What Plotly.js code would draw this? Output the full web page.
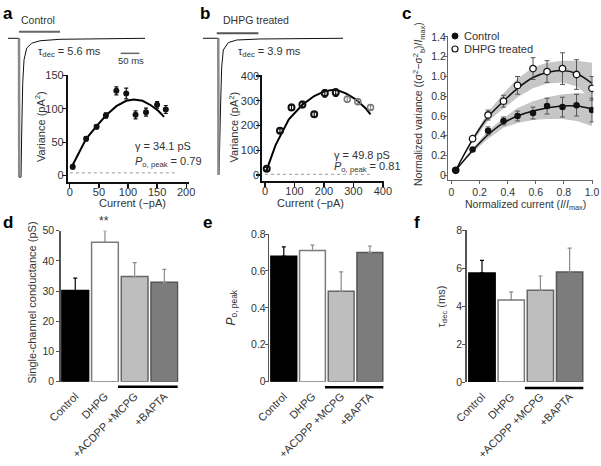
<!DOCTYPE html>
<html><head><meta charset="utf-8">
<script src="https://cdn.plot.ly/plotly-3.0.1.min.js"></script>
<style>html,body{margin:0;padding:0;background:#fff}#chart{width:601px;height:466px}</style>
</head><body><div id="chart"></div>
<script>
// ---------- data ----------
// example current traces (time ms, current pA)
const traceA_t = [0, 29.5, 30, 34.9, 36.7, 39.4, 42.9, 50.1, 63.5, 85.8, 139.4, 367];
const traceA_i = [0, 0, -170, -170, -116, -55, -26.5, -12, -6, -3, -1.2, 0];
const onsetA_t = [29.5, 30];
const onsetA_i = [0, -170];
const drugA_t = [29.5, 139.4];
const drugA_i = [8.1, 8.1];
const scaleA_t = [302, 352];
const scaleA_i = [-18.4, -18.4];

const traceB_t = [0, 41, 41.5, 42.9, 47.5, 50.1, 54.4, 67.8, 90.3, 152.8, 375];
const traceB_i = [0, 0, -350, -345, -158, -73, -30, -11, -4.4, -1.8, 0];
const onsetB_t = [41, 41.5];
const onsetB_i = [0, -350];
const drugB_t = [36.7, 148.3];
const drugB_i = [12.8, 12.8];

// panel a: variance vs current (control)
const aCurrent  = [5, 28, 46, 62, 80, 97, 113, 131, 150, 165];
const aVariance = [13, 55, 73, 90, 127, 123, 91, 95, 106, 99];
const aErr      = [3, 3, 3, 4, 6, 8, 6, 6, 5, 6];
const aFitX = [2, 28, 46, 62, 80, 97, 110, 125, 140, 152, 162];
const aFitY = [11, 55, 74, 90, 104, 112, 114, 112, 105, 97, 88];
const aBaseX = [0, 182];
const aBaseY = [4, 4];
const aXTicks = [0, 50, 100, 150, 200];
const aYTicks = [0, 50, 100, 150];

// panel b: variance vs current (DHPG)
const bCurrent  = [6, 51, 90, 127, 167, 203, 240, 279, 315, 358];
const bVariance = [25, 179, 273, 285, 246, 330, 333, 306, 296, 273];
const bErr      = [6, 8, 12, 13, 10, 15, 15, 12, 10, 10];
const bFitX = [5, 36, 81, 126, 167, 203, 240, 274, 308, 341, 358];
const bFitY = [18, 121, 225, 283, 319, 339, 345, 330, 306, 270, 245];
const bBaseX = [0, 356];
const bBaseY = [3, 3];
const bTicks = [0, 100, 200, 300, 400];

// panel c: normalized
const cCurrent = [0.03, 0.15, 0.26, 0.37, 0.47, 0.58, 0.68, 0.79, 0.89, 1.0];
const cCtrl    = [0.05, 0.26, 0.45, 0.55, 0.60, 0.63, 0.70, 0.69, 0.71, 0.66];
const cCtrlErr = [0.01, 0.02, 0.04, 0.04, 0.05, 0.06, 0.08, 0.10, 0.11, 0.12];
const cDhpg    = [0.05, 0.37, 0.61, 0.75, 0.91, 1.08, 1.05, 1.08, 1.02, 0.88];
const cDhpgErr = [0.01, 0.02, 0.05, 0.06, 0.09, 0.11, 0.11, 0.16, 0.15, 0.12];
const cCtrlFit = [0.05, 0.25, 0.41, 0.53, 0.60, 0.65, 0.68, 0.70, 0.70, 0.67];
const cCtrlUp  = [0.05, 0.27, 0.45, 0.58, 0.68, 0.75, 0.79, 0.82, 0.83, 0.83];
const cCtrlLo  = [0.05, 0.23, 0.37, 0.48, 0.53, 0.56, 0.57, 0.57, 0.55, 0.50];
const cDhpgFit = [0.05, 0.36, 0.59, 0.75, 0.88, 0.99, 1.04, 1.06, 1.03, 0.93];
const cDhpgUp  = [0.05, 0.38, 0.64, 0.83, 0.98, 1.09, 1.14, 1.16, 1.16, 1.14];
const cDhpgLo  = [0.05, 0.34, 0.55, 0.68, 0.79, 0.88, 0.93, 0.94, 0.90, 0.77];
const cXTicks = [0, 0.2, 0.4, 0.6, 0.8, 1.0];
const cXLabels = ['0', '0.2', '0.4', '0.6', '0.8', '1.0'];
const cYTicks = [0, 0.2, 0.4, 0.6, 0.8, 1.0, 1.2, 1.4];
const cYLabels = ['0', '0.2', '0.4', '0.6', '0.8', '1.0', '1.2', '1.4'];

// bar panels d, e, f
const barCats = ['Control', 'DHPG', '+ACDPP +MCPG', '+BAPTA'];
const dVals = [30.2, 46.2, 34.8, 32.9];
const dErr  = [4.1, 3.8, 4.6, 4.3];
const eVals = [0.68, 0.71, 0.49, 0.70];
const eErr  = [0.05, 0.03, 0.105, 0.035];
const fVals = [5.74, 4.31, 4.83, 5.79];
const fErr  = [0.66, 0.43, 0.75, 1.26];
const dTicks = [0, 10, 20, 30, 40, 50];
const eTicks = [0, 0.2, 0.4, 0.6, 0.8];
const fTicks = [0, 2, 4, 6, 8];

// ---------- styles / layout helpers ----------
const FONT = 'Liberation Sans, Arial, sans-serif';
const TXT = '#333';
const W = 601, H = 466;
const dx = (a, b) => [a / W, b / W];
const dy = (top, bot) => [1 - bot / H, 1 - top / H];
const barFill = ['#000000', '#ffffff', '#bebebe', '#7c7c7c'];
const barLine = ['#000000', '#7a7a7a', '#666666', '#555555'];
const barErrC = ['#000000', '#8a8a8a', '#8a8a8a', '#8a8a8a'];

const traces = [];
// traces a
traces.push({x: traceA_t, y: traceA_i, mode: 'lines', line: {color: '#111', width: 1}, xaxis: 'x', yaxis: 'y'});
traces.push({x: onsetA_t, y: onsetA_i, mode: 'lines', line: {color: '#8a8a8a', width: 2.5}, xaxis: 'x', yaxis: 'y'});
traces.push({x: drugA_t, y: drugA_i, mode: 'lines', line: {color: '#666', width: 2}, xaxis: 'x', yaxis: 'y'});
traces.push({x: scaleA_t, y: scaleA_i, mode: 'lines', line: {color: '#666', width: 1.5}, xaxis: 'x', yaxis: 'y'});
// traces b
traces.push({x: traceB_t, y: traceB_i, mode: 'lines', line: {color: '#111', width: 1}, xaxis: 'x3', yaxis: 'y3'});
traces.push({x: onsetB_t, y: onsetB_i, mode: 'lines', line: {color: '#8a8a8a', width: 2.5}, xaxis: 'x3', yaxis: 'y3'});
traces.push({x: drugB_t, y: drugB_i, mode: 'lines', line: {color: '#555', width: 2}, xaxis: 'x3', yaxis: 'y3'});

// panel a scatter
traces.push({x: aBaseX, y: aBaseY, mode: 'lines', line: {color: '#999', width: 1, dash: 'dot'}, xaxis: 'x2', yaxis: 'y2'});
traces.push({x: aFitX, y: aFitY, mode: 'lines', line: {color: '#000', width: 2}, xaxis: 'x2', yaxis: 'y2'});
traces.push({x: aCurrent, y: aVariance, mode: 'markers', marker: {color: '#111', size: 6},
  error_y: {type: 'data', array: aErr, color: '#111', thickness: 1.2, width: 2}, xaxis: 'x2', yaxis: 'y2'});

// panel b scatter
traces.push({x: bBaseX, y: bBaseY, mode: 'lines', line: {color: '#999', width: 1, dash: 'dot'}, xaxis: 'x4', yaxis: 'y4'});
traces.push({x: bFitX, y: bFitY, mode: 'lines', line: {color: '#000', width: 2}, xaxis: 'x4', yaxis: 'y4'});
traces.push({x: bCurrent.slice(0, 7), y: bVariance.slice(0, 7), mode: 'markers',
  marker: {symbol: 'circle-open', color: '#111', size: 6, line: {width: 2, color: '#111'}},
  error_y: {type: 'data', array: bErr.slice(0, 7), color: '#111', thickness: 1.2, width: 2}, xaxis: 'x4', yaxis: 'y4'});
traces.push({x: bCurrent.slice(7), y: bVariance.slice(7), mode: 'markers',
  marker: {symbol: 'circle-open', color: '#777', size: 6, line: {width: 1.5, color: '#777'}},
  error_y: {type: 'data', array: bErr.slice(7), color: '#888', thickness: 1.2, width: 2}, xaxis: 'x4', yaxis: 'y4'});

// panel c
const bandC = '#c6c6c6';
traces.push({x: cCurrent, y: cDhpgUp, mode: 'lines', line: {width: 0, color: bandC}, xaxis: 'x5', yaxis: 'y5'});
traces.push({x: cCurrent, y: cDhpgLo, mode: 'lines', line: {width: 0, color: bandC}, fill: 'tonexty', fillcolor: bandC, xaxis: 'x5', yaxis: 'y5'});
traces.push({x: cCurrent, y: cCtrlUp, mode: 'lines', line: {width: 0, color: bandC}, xaxis: 'x5', yaxis: 'y5'});
traces.push({x: cCurrent, y: cCtrlLo, mode: 'lines', line: {width: 0, color: bandC}, fill: 'tonexty', fillcolor: bandC, xaxis: 'x5', yaxis: 'y5'});
traces.push({x: cCurrent, y: cDhpgFit, mode: 'lines', line: {color: '#111', width: 1.5, shape: 'spline'}, xaxis: 'x5', yaxis: 'y5'});
traces.push({x: cCurrent, y: cCtrlFit, mode: 'lines', line: {color: '#111', width: 1.5, shape: 'spline'}, xaxis: 'x5', yaxis: 'y5'});
traces.push({x: cCurrent, y: cDhpg, mode: 'markers',
  marker: {symbol: 'circle', color: '#fff', size: 6.5, line: {width: 1.3, color: '#111'}},
  error_y: {type: 'data', array: cDhpgErr, color: '#555', thickness: 1, width: 2.5}, xaxis: 'x5', yaxis: 'y5'});
traces.push({x: cCurrent, y: cCtrl, mode: 'markers',
  marker: {symbol: 'circle', color: '#111', size: 6.5},
  error_y: {type: 'data', array: cCtrlErr, color: '#555', thickness: 1, width: 2.5}, xaxis: 'x5', yaxis: 'y5'});

// bar panels
function addBars(vals, errs, xa, ya) {
  for (let i = 0; i < barCats.length; i++) {
    traces.push({type: 'bar', x: [barCats[i]], y: [vals[i]], width: 0.9,
      marker: {color: barFill[i], line: {color: barLine[i], width: 1.5}},
      error_y: {type: 'data', symmetric: false, array: [errs[i]], arrayminus: [0], color: barErrC[i], thickness: 1.2, width: 2},
      xaxis: xa, yaxis: ya});
  }
}
addBars(dVals, dErr, 'x6', 'y6');
addBars(eVals, eErr, 'x7', 'y7');
addBars(fVals, fErr, 'x8', 'y8');

// ---------- axes ----------
const tf = (s) => ({family: FONT, size: s, color: TXT});
function sAx(o) {
  return Object.assign({showgrid: false, zeroline: false, showline: true, linecolor: '#111', linewidth: 1.6,
    ticks: 'outside', ticklen: 4, tickwidth: 1.3, tickcolor: '#111', tickfont: tf(11), fixedrange: true}, o);
}
function cAx(o) {
  return Object.assign({showgrid: false, zeroline: false, showline: true, linecolor: '#666', linewidth: 1,
    ticks: 'outside', ticklen: 3, tickwidth: 1, tickcolor: '#666', tickfont: tf(10.5), fixedrange: true}, o);
}
function barX(dom, rng, anchor) {
  return {domain: dom, range: rng, anchor: anchor, type: 'category', categoryorder: 'array', categoryarray: barCats,
    showgrid: false, zeroline: false, showline: false, ticks: 'outside', ticklen: 3, tickcolor: 'rgba(0,0,0,0)',
    tickangle: -45, tickfont: tf(11), fixedrange: true};
}
function barY(dom, rng, vals, anchor, so) {
  return {domain: dom, range: rng, anchor: anchor, tickmode: 'array', tickvals: vals, showgrid: false, zeroline: false, showline: true,
    linecolor: '#555', linewidth: 1.5, ticks: 'outside', ticklen: 3, tickwidth: 1, tickcolor: '#555',
    tickfont: tf(10.5), ticklabelstandoff: so, fixedrange: true};
}
const hidden = (dom, rng, anchor) => ({domain: dom, range: rng, visible: false, anchor: anchor, fixedrange: true});

const layout = {
  width: W, height: H, margin: {l: 0, r: 0, t: 0, b: 0}, paper_bgcolor: '#fff', plot_bgcolor: 'rgba(0,0,0,0)',
  showlegend: false, barmode: 'overlay', font: {family: FONT, color: TXT},
  xaxis: hidden(dx(8, 145), [0, 367], 'y'),
  yaxis: hidden(dy(25, 180), [-173.5, 16.3], 'x'),
  xaxis3: hidden(dx(203, 343), [0, 375], 'y3'),
  yaxis3: hidden(dy(25, 180), [-362.8, 34], 'x3'),
  xaxis2: sAx({domain: dx(67.5, 188.5), range: [-4, 204], anchor: 'y2', tickmode: 'array', tickvals: aXTicks, ticklabelstandoff: -5}),
  yaxis2: sAx({domain: dy(74.8, 182), range: [-9.7, 151], anchor: 'x2', tickmode: 'array', tickvals: aYTicks, ticklabelstandoff: -4}),
  xaxis4: sAx({domain: dx(262, 383.5), range: [-10, 402], anchor: 'y4', tickmode: 'array', tickvals: bTicks, ticklabelstandoff: -5}),
  yaxis4: sAx({domain: dy(75, 181), range: [-24, 404], anchor: 'x4', tickmode: 'array', tickvals: bTicks, ticklabelstandoff: -5}),
  xaxis5: cAx({domain: dx(448, 593.4), range: [-0.025, 1.01], anchor: 'y5', tickmode: 'array',
    tickvals: cXTicks, ticktext: cXLabels, ticklabelstandoff: -1}),
  yaxis5: cAx({domain: dy(36, 180), range: [-0.048, 1.41], anchor: 'x5', tickmode: 'array',
    tickvals: cYTicks, ticktext: cYLabels, ticklabelstandoff: -4}),
  xaxis6: barX(dx(60.7, 178.6), [-0.49, 3.48], 'y6'),
  yaxis6: barY(dy(230.7, 381.7), [0, 50], dTicks, 'x6', 0),
  xaxis7: barX(dx(269.3, 384.2), [-0.505, 3.5], 'y7'),
  yaxis7: barY(dy(234, 381.7), [0, 0.8], eTicks, 'x7', -3),
  xaxis8: barX(dx(466.7, 584.2), [-0.524, 3.5], 'y8'),
  yaxis8: barY(dy(230, 382), [0, 8], fTicks, 'x8', -2),
  shapes: [],
  annotations: []
};

// group lines under drug bars
const underline = (xa, x0, x1, py) => ({type: 'line', xref: xa, yref: 'paper', x0: x0, x1: x1,
  y0: 1 - py / H, y1: 1 - py / H, line: {color: '#000', width: 2.5}});
layout.shapes.push(underline('x6', 1.44, 3.45, 386.7));
layout.shapes.push(underline('x7', 1.435, 3.47, 387.3));
layout.shapes.push(underline('x8', 1.47, 3.47, 388));
// legend symbols for panel c
layout.shapes.push({type: 'circle', xref: 'paper', yref: 'paper', x0: 452 / W, x1: 458 / W, y0: 1 - 39 / H, y1: 1 - 33 / H,
  fillcolor: '#111', line: {color: '#111', width: 1}});
layout.shapes.push({type: 'circle', xref: 'paper', yref: 'paper', x0: 452 / W, x1: 458 / W, y0: 1 - 52 / H, y1: 1 - 46 / H,
  fillcolor: '#fff', line: {color: '#111', width: 1.2}});

function ann(px, py, text, o) {
  layout.annotations.push(Object.assign({xref: 'paper', yref: 'paper', x: px / W, y: 1 - py / H, text: text,
    showarrow: false, xanchor: 'center', yanchor: 'middle', font: {family: FONT, size: 11, color: TXT}}, o || {}));
}
const big = {font: {family: FONT, size: 17, color: '#000'}};
ann(7.5, 13, '<b>a</b>', big);
ann(205.5, 13, '<b>b</b>', big);
ann(406, 13, '<b>c</b>', big);
ann(7.5, 222, '<b>d</b>', big);
ann(207.5, 222, '<b>e</b>', big);
ann(416.5, 222, '<b>f</b>', big);

ann(37.5, 20, 'Control', {font: {family: FONT, size: 10.5, color: TXT}});
ann(256, 20, 'DHPG treated', {font: {family: FONT, size: 10.5, color: TXT}});
ann(36, 52, 'τ<sub>dec</sub> = 5.6 ms', {xanchor: 'left'});
ann(236, 52, 'τ<sub>dec</sub> = 3.9 ms', {xanchor: 'left'});
ann(130.5, 61, '50 ms', {font: {family: FONT, size: 9.5, color: TXT}});

ann(40, 127, 'Variance (pA<sup>2</sup>)', {textangle: -90});
ann(132.5, 203, 'Current (−pA)');
ann(233.5, 127, 'Variance (pA<sup>2</sup>)', {textangle: -90});
ann(310, 203, 'Current (−pA)');
ann(133, 146, 'γ = 34.1 pS', {xanchor: 'left'});
ann(133, 162, '<i>P</i><sub>o, peak</sub> = 0.79', {xanchor: 'left'});
ann(332, 155, 'γ = 49.8 pS', {xanchor: 'left'});
ann(332, 167, '<i>P</i><sub>o, peak</sub> = 0.81', {xanchor: 'left'});

ann(419, 104, 'Normalized variance ((σ<sup>2</sup>−σ<sup>2</sup><sub>b</sub>)/<i>I</i><sub>max</sub>)', {textangle: -90, font: {family: FONT, size: 10.5, color: TXT}});
ann(525.5, 205, 'Normalized current (<i>I</i>/<i>I</i><sub>max</sub>)', {font: {family: FONT, size: 10.5, color: TXT}});
ann(462, 36, 'Control', {xanchor: 'left'});
ann(462, 49, 'DHPG treated', {xanchor: 'left'});

ann(31.5, 303, 'Single-channel conductance (pS)', {textangle: -90});
ann(104, 221, '**', {font: {family: FONT, size: 12, color: TXT}});
ann(231.5, 308, '<i>P</i><sub>o, peak</sub>', {textangle: -90, font: {family: FONT, size: 12, color: TXT}});
ann(441.5, 307, 'τ<sub>dec</sub> (ms)', {textangle: -90});

Plotly.newPlot('chart', traces, layout, {staticPlot: true, displayModeBar: false});
</script>
</body></html>
